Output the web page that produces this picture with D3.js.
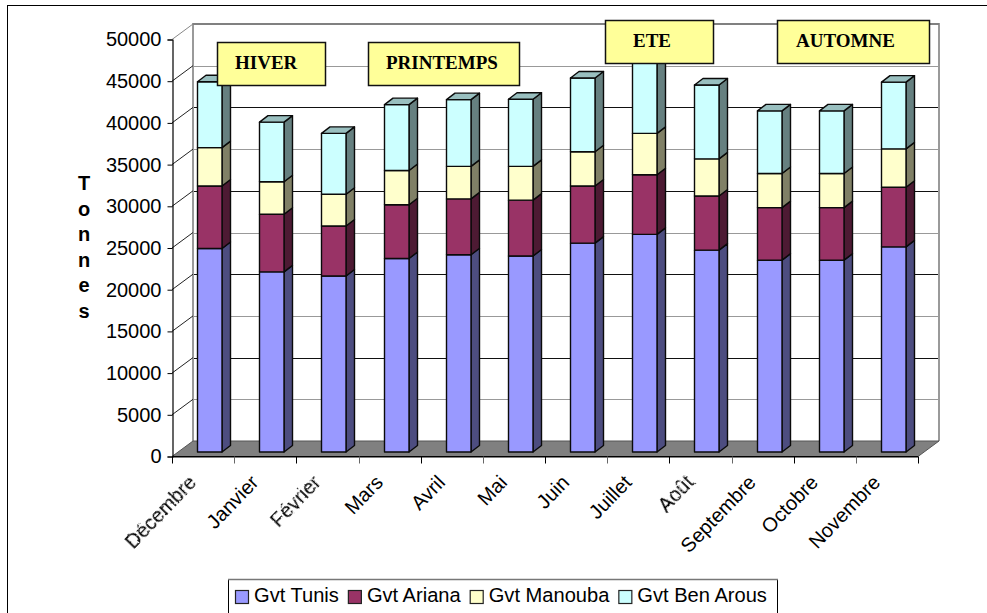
<!DOCTYPE html>
<html>
<head>
<meta charset="utf-8">
<script src="https://cdn.jsdelivr.net/npm/d3@7/dist/d3.min.js"></script>
<style>
html,body{margin:0;padding:0;background:#fff;overflow:hidden}
svg{display:block}
text{font-family:"Liberation Sans",Arial,sans-serif;fill:#000}
</style>
</head>
<body>
<svg id="c" width="987" height="613"></svg>
<script>
const months = ["Décembre","Janvier","Février","Mars","Avril","Mai","Juin","Juillet","Août","Septembre","Octobre","Novembre"];
const seriesNames = ["Gvt Tunis","Gvt Ariana","Gvt Manouba","Gvt Ben Arous"];
const gvtTunis   = [24400,21600,21100,23200,23650,23500,25050,26100,24200,23000,23000,24600];
const gvtAriana  = [7500,6900,6000,6450,6700,6700,6850,7150,6500,6300,6300,7150];
const gvtManouba = [4600,3900,3800,4100,3900,4050,4100,4950,4450,4100,4100,4600];
const gvtBenArous= [7900,7150,7300,7900,8000,8050,8850,9400,8850,7500,7500,8000];
const yTicks = [0,5000,10000,15000,20000,25000,30000,35000,40000,45000,50000];
const jagged = ["Décembre","Février","Août"];
const axisTitle = "Tonnes";
const seasons = ["HIVER","PRINTEMPS","ETE","AUTOMNE"];

const frontColors = ["#9999FF","#993366","#FFFFCC","#CCFFFF"];
const sideColors  = ["#4D4D80","#4D1A33","#808066","#668080"];
const topColor = "#99BFBF";

const svg = d3.select("#c");
const x = d3.scaleBand().domain(months).range([172,918]);
const y = d3.scaleLinear().domain([0,50000]).range([456.5,39.5]);
const wallDx = 21, wallDy = 15.5;
const barInset = 25, barW = 24.5, barLift = 4.5, depthX = 8.5, depthY = 6.5;

// outer frame
svg.append("rect").attr("x",7.5).attr("y",5.5).attr("width",1100).attr("height",800).attr("fill","#fff").attr("stroke","#000").attr("stroke-width",1);

// back wall
const yb = v => y(v)-wallDy;
const wallL = x.range()[0]+wallDx, wallR = x.range()[1]+wallDx;
svg.append("g").selectAll("line").data(yTicks.filter(v=>v>0&&v<50000)).join("line")
  .attr("x1",wallL).attr("x2",wallR)
  .attr("y1",d=>Math.round(yb(d))+.5).attr("y2",d=>Math.round(yb(d))+.5)
  .attr("stroke",d=>d%10000===0?"#111":"#999").attr("stroke-width",1.1);
svg.append("path").attr("d",`M${wallL},${yb(0)}V${yb(50000)}H${wallR}V${yb(0)}`)
  .attr("fill","none").attr("stroke","#9a9a9a").attr("stroke-width",2);
svg.append("line").attr("x1",wallL).attr("x2",wallR).attr("y1",yb(50000)).attr("y2",yb(50000)).attr("stroke","#808080").attr("stroke-width",2);

// diagonals from axis to wall
svg.append("g").selectAll("line").data(yTicks.filter(v=>v>0)).join("line")
  .attr("x1",x.range()[0]).attr("x2",wallL)
  .attr("y1",d=>y(d)).attr("y2",d=>yb(d))
  .attr("stroke",d=>d===50000?"#888":"#222").attr("stroke-width",1);

// floor
svg.append("path").attr("d",`M${x.range()[0]},${y(0)}L${wallL},${yb(0)}H${wallR}L${x.range()[1]},${y(0)}Z`)
  .attr("fill","#808080").attr("stroke","#555").attr("stroke-width",1);

// bars
const rows = months.map((m,i)=>({m,s0:gvtTunis[i],s1:gvtAriana[i],s2:gvtManouba[i],s3:gvtBenArous[i]}));
const stacked = d3.stack().keys(["s0","s1","s2","s3"])(rows);
const gBars = svg.append("g").attr("stroke","#0a0a0a").attr("stroke-width",1.4).attr("stroke-linejoin","round");
months.forEach((m,mi)=>{
  const g = gBars.append("g");
  const L = Math.round(x(m)+barInset)+.5, R = L+barW;
  stacked.forEach((layer,si)=>{
    const d = layer[mi];
    const b = y(d[0])-barLift, t = y(d[1])-barLift;
    g.append("path").attr("d",`M${R},${b}L${R+depthX},${b-depthY}V${t-depthY}L${R},${t}Z`).attr("fill",sideColors[si]);
    g.append("rect").attr("x",L).attr("y",t).attr("width",barW).attr("height",b-t).attr("fill",frontColors[si]);
    if(si===stacked.length-1){
      g.append("path").attr("d",`M${L},${t}L${L+depthX},${t-depthY}H${R+depthX}L${R},${t}Z`).attr("fill",topColor);
    }
  });
});

// y axis
const yAxis = svg.append("g").attr("transform",`translate(${x.range()[0]+.5},0)`)
  .call(d3.axisLeft(y).tickValues(yTicks).tickSize(5).tickPadding(6).tickFormat(d3.format("d")));
yAxis.selectAll("path").attr("stroke","#000").attr("stroke-width",1.2);
yAxis.selectAll("line").attr("stroke","#000");
yAxis.selectAll("text").style("font-family",'"Liberation Sans",Arial,sans-serif').style("font-size","20px").attr("fill","#000");

// x axis baseline & edge ticks
svg.append("line").attr("x1",x.range()[0]).attr("x2",x.range()[1]).attr("y1",y(0)+.3).attr("y2",y(0)+.3).attr("stroke","#000").attr("stroke-width",1.4);
const edges = months.map(m=>x(m)).concat([x.range()[1]]);
svg.append("g").selectAll("line").data(edges).join("line")
  .attr("x1",d=>Math.round(d)+.5).attr("x2",d=>Math.round(d)+.5).attr("y1",y(0)).attr("y2",y(0)+7)
  .attr("stroke",(d,i)=>i%2?"#666":"#000");

// jagged label filter
const defs = svg.append("defs");
const f = defs.append("filter").attr("id","jag").attr("x","-10%").attr("y","-10%").attr("width","120%").attr("height","120%");
f.append("feTurbulence").attr("type","fractalNoise").attr("baseFrequency",0.55).attr("numOctaves",1).attr("seed",4).attr("result","n");
f.append("feDisplacementMap").attr("in","SourceGraphic").attr("in2","n").attr("scale",2.6);

// x labels
svg.append("g").selectAll("text").data(months).join("text")
  .attr("text-anchor","end")
  .attr("transform",d=>`translate(${x(d)+x.bandwidth()/2-5.5},${y(0)+27}) rotate(-46)`)
  .attr("font-size",20)
  .attr("filter",d=>jagged.includes(d)?"url(#jag)":null)
  .attr("fill",d=>jagged.includes(d)?"#333":"#000")
  .text(d=>d);

// vertical title
const titleY = d3.scalePoint().domain(d3.range(axisTitle.length)).range([190,318]);
svg.append("g").selectAll("text").data(axisTitle.split("")).join("text")
  .attr("x",84).attr("y",(d,i)=>titleY(i)).attr("text-anchor","middle")
  .attr("font-size",20).attr("font-weight","bold").text(d=>d);

// season boxes
const boxLeft = [217,368,605,777];
const boxW = [108,151,108,152];
const boxTop = [42,42,20,20];
const boxTextInset = [18,18,28,19];
const gs = svg.append("g");
seasons.forEach((s,i)=>{
  const bx = boxLeft[i];
  gs.append("rect").attr("x",bx+1).attr("y",boxTop[i]+1).attr("width",boxW[i]).attr("height",43).attr("fill","#ccc");
  gs.append("rect").attr("x",bx+.5).attr("y",boxTop[i]+.5).attr("width",boxW[i]).attr("height",43).attr("fill","#FFFF99").attr("stroke","#111").attr("stroke-width",1.5);
  gs.append("text").attr("x",bx+boxTextInset[i]).attr("y",boxTop[i]+27)
    .style("font-family",'"Liberation Serif","Times New Roman",serif').attr("font-weight","bold").attr("font-size",19).text(s);
});

// legend
const lg = svg.append("g");
lg.append("rect").attr("x",228.5).attr("y",579.5).attr("width",549).attr("height",60).attr("fill","#fff").attr("stroke","#000");
lg.append("line").attr("x1",228).attr("x2",778).attr("y1",579.5).attr("y2",579.5).attr("stroke","#777").attr("stroke-width",1.4);
let cx = 235;
seriesNames.forEach((n,i)=>{
  lg.append("rect").attr("x",cx+.5).attr("y",590.5).attr("width",13).attr("height",13).attr("fill",frontColors[i]).attr("stroke","#222").attr("stroke-width",1.2);
  const t = lg.append("text").attr("x",cx+19).attr("y",602).attr("font-size",20.1).text(n);
  cx += 19 + t.node().getComputedTextLength() + 9;
});
</script>
</body>
</html>
